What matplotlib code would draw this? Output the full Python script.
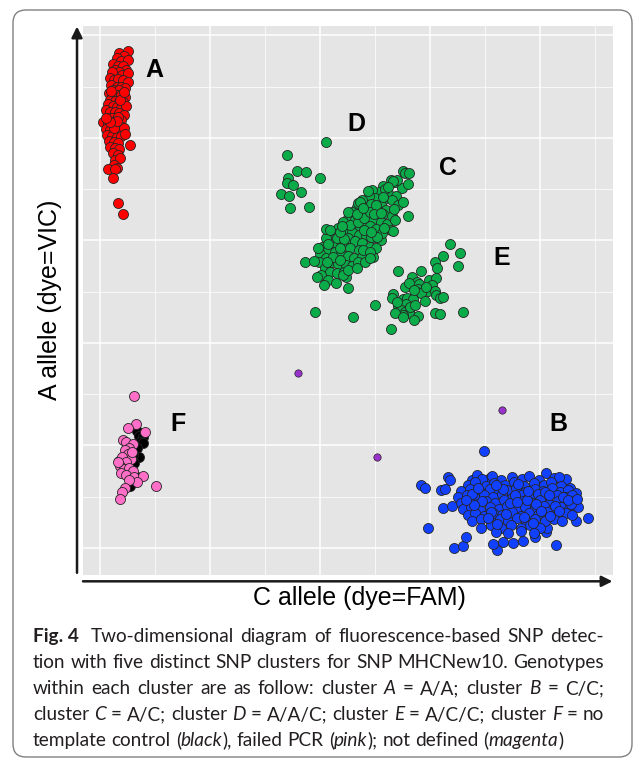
import numpy as np
import matplotlib
matplotlib.use("Agg")
import matplotlib.pyplot as plt
from matplotlib.patches import FancyBboxPatch
from matplotlib.ticker import MultipleLocator

# Fluorescence readings (arbitrary units): FAM on x, VIC on y

# cluster A = A/A
a_pts = np.array([
    (17, 483), (25, 485), (22, 480), (15, 478), (19, 475), (25, 476), (12, 472), (16, 470),
    (21, 470), (24, 466), (14, 466), (17, 464), (11, 464), (20, 461), (25, 463), (9, 458),
    (13, 456), (16, 457), (21, 456), (25, 454), (10, 451), (15, 450), (19, 450), (23, 449),
    (12, 447), (17, 447), (8, 444), (11, 441), (15, 442), (19, 442), (23, 440), (9, 437),
    (14, 436), (17, 435), (21, 435), (7, 433), (12, 431), (15, 430), (19, 429), (24, 431),
    (5, 427), (9, 425), (14, 425), (17, 424), (22, 422), (6, 419), (11, 419), (15, 418),
    (19, 417), (3, 415), (7, 413), (12, 413), (15, 411), (20, 411), (5, 409), (9, 408),
    (14, 407), (18, 406), (22, 410), (6, 403), (11, 402), (15, 401), (19, 402), (23, 404),
    (8, 397), (13, 396), (16, 395), (9, 391), (14, 390), (17, 389), (27, 393), (12, 385),
    (16, 383), (14, 378), (18, 380), (13, 373), (15, 371), (7, 370), (14, 370), (12, 361),
    (16, 336), (21, 326), (10, 446), (16, 420), (13, 410), (18, 437), (15, 416), (9, 415),
    (22, 445), (5, 419),
])

# cluster B = C/C
b_pts = np.array([
    (292, 61), (295, 59), (310, 57), (313, 58), (316, 69), (318, 66), (298, 20), (312, 39),
    (320, 41), (322, 0), (330, 2), (332, 11), (338, 66), (342, 71), (349, 95), (354, 68),
    (361, -2), (357, 4), (366, 6), (375, 5), (384, 7), (395, 11), (414, 3), (443, 29),
    (432, 26), (405, 73), (423, 67), (427, 59), (405, 16), (397, 19), (406, 20), (412, 68),
    (432, 54),
    (347, 67), (356, 70), (364, 66), (374, 69), (383, 67), (390, 70), (399, 66), (417, 69),
    (334, 61), (341, 64), (351, 60), (358, 63), (368, 61), (376, 64), (385, 60), (394, 63),
    (403, 61), (410, 64), (419, 60),
    (328, 56), (336, 58), (345, 55), (354, 58), (362, 55), (370, 57), (378, 59), (386, 55),
    (395, 58), (402, 56), (411, 59), (418, 55), (425, 57),
    (325, 50), (333, 52), (341, 49), (349, 52), (357, 50), (365, 53), (374, 49), (382, 52),
    (390, 50), (398, 53), (406, 49), (415, 52), (422, 50), (429, 52),
    (328, 44), (335, 47), (343, 43), (351, 46), (359, 44), (367, 47), (375, 43), (384, 46),
    (392, 44), (400, 47), (408, 43), (416, 46), (424, 44), (431, 46),
    (330, 38), (337, 40), (345, 37), (354, 40), (362, 38), (370, 41), (378, 37), (386, 40),
    (395, 38), (403, 41), (411, 37), (419, 40), (426, 38), (434, 40),
    (334, 32), (341, 34), (349, 31), (357, 34), (365, 32), (374, 35), (382, 31), (390, 34),
    (398, 32), (406, 35), (415, 31), (423, 34), (429, 32),
    (338, 26), (346, 28), (355, 25), (363, 28), (371, 26), (379, 29), (387, 25), (395, 28),
    (404, 26), (412, 28), (420, 26),
    (346, 20), (355, 22), (364, 20), (373, 22), (382, 20), (391, 22), (400, 20),
    (360, 16), (371, 15), (382, 17), (394, 15),
    (338, 53), (347, 46), (355, 35), (366, 58), (372, 44), (380, 62), (388, 47), (396, 43),
    (404, 55), (413, 41), (421, 50), (428, 43), (340, 42), (352, 29), (361, 23), (369, 33),
    (377, 52), (385, 30), (393, 24), (401, 36), (409, 31), (417, 36), (425, 47), (433, 48),
    (332, 47), (343, 59), (360, 61), (379, 45), (389, 56), (408, 52),
])

# cluster C = A/C
c_pts = np.array([
    (268, 357), (274, 351), (264, 359), (257, 353), (262, 346), (269, 343), (253, 347),
    (258, 340), (247, 349), (250, 341), (265, 339), (255, 334), (260, 330), (271, 334),
    (244, 343), (275, 368), (277, 366), (281, 366), (270, 359), (266, 358),
    (238, 339), (233, 333), (241, 332), (246, 335), (252, 330), (257, 326), (236, 326),
    (243, 324), (248, 321), (255, 318), (261, 316), (229, 328), (225, 322), (232, 320),
    (238, 316), (245, 314), (251, 311), (264, 310), (235, 310),
    (221, 318), (216, 312), (224, 311), (229, 308), (235, 305), (242, 304), (247, 302),
    (255, 300), (213, 306), (219, 304), (225, 302), (232, 299), (238, 297), (245, 294),
    (251, 293), (209, 300), (215, 296), (221, 295), (227, 293), (235, 291),
    (205, 302), (202, 294), (207, 291), (213, 289), (219, 287), (225, 285), (231, 283),
    (238, 284), (200, 287), (205, 283), (211, 279), (216, 277), (223, 276), (229, 275),
    (199, 279), (204, 273), (209, 269), (215, 268), (222, 269),
    (201, 266), (207, 261), (214, 258), (203, 256), (223, 264), (225, 254),
    (186, 279), (194, 280), (197, 264), (205, 311), (225, 328), (234, 336), (256, 307),
    (266, 309), (248, 284), (271, 270), (221, 266), (280, 324), (275, 337), (280, 355),
    (259, 350), (243, 348), (195, 230), (230, 225), (250, 237), (264, 214), (246, 303),
    (252, 303), (236, 337),
    (227, 315), (234, 318), (240, 322), (245, 328), (251, 334), (257, 342), (262, 352),
    (215, 302), (222, 301), (207, 296), (218, 293), (212, 284), (218, 281), (198, 293),
    (239, 291), (245, 289), (234, 279), (240, 310), (246, 308), (258, 312), (265, 324),
    (267, 331), (268, 320),
    (209, 310), (218, 308), (206, 279), (225, 271), (233, 273), (241, 279), (245, 283),
    (220, 314), (233, 326), (239, 332), (249, 326), (255, 327),
])

# cluster D = A/A/C
d_pts = np.array([
    (205, 396), (170, 383), (179, 368), (187, 367), (200, 361), (171, 361), (170, 356),
    (175, 354), (183, 347), (164, 345), (172, 343), (173, 332), (190, 333),
])

# cluster E = A/C/C
e_pts = np.array([
    (318, 296), (327, 288), (312, 285), (325, 275), (304, 279), (306, 273), (292, 270),
    (283, 264), (288, 259), (299, 261), (305, 263), (277, 255), (281, 258), (290, 257),
    (289, 253), (302, 256), (298, 251), (304, 251), (288, 250), (292, 249), (305, 247),
    (309, 244), (312, 245), (266, 248), (265, 244), (271, 236), (275, 243), (279, 244),
    (284, 243), (278, 238), (282, 234), (273, 232), (277, 230), (281, 229), (275, 227),
    (268, 229), (289, 226), (285, 222), (295, 241), (304, 229), (309, 228), (330, 230),
    (275, 225), (282, 235), (285, 252), (296, 255), (270, 240), (286, 237),
])

# cluster F: failed PCR (pink) and no template control (black)
f_pink = np.array([
    (31, 148), (33, 121), (25, 117), (41, 113), (21, 105), (24, 103), (30, 101), (26, 98),
    (23, 96), (25, 92), (20, 89), (28, 87), (24, 84), (18, 80), (22, 77), (26, 78),
    (30, 75), (19, 73), (24, 71), (31, 69), (39, 70), (34, 64), (26, 66), (23, 59),
    (20, 55), (18, 48), (51, 60), (29, 94), (16, 84),
])
f_ntc = np.array([
    (34, 114), (35, 109), (39, 108), (36, 103), (39, 102), (34, 98), (35, 89), (30, 91),
    (17, 85), (31, 83), (29, 74), (27, 60), (34, 69), (21, 79), (25, 86),
])

# not defined
undef_pts = np.array([(180, 171), (365, 135), (252, 89)])

lab_names = ["A", "B", "C", "D", "E", "F"]
lab_fam = [49, 416, 316, 233, 365, 71]
lab_vic = [469, 123, 373, 416, 285, 123]

caption = [
    "#Fig.~4#~ Two-dimensional diagram of fluorescence-based SNP detec-",
    "tion with five distinct SNP clusters for SNP MHCNew10. Genotypes",
    "within each cluster are as follow: cluster _A_ = A/A; cluster _B_ = C/C;",
    "cluster _C_ = A/C; cluster _D_ = A/A/C; cluster _E_ = A/C/C; cluster _F_ = no",
    "template control (_black_), failed PCR (_pink_); not defined (_magenta_)",
]

#-----------------------------------------------------------------------

W, H = 637, 761
fig = plt.figure(figsize=(W / 100, H / 100), dpi=100)

# figure frame
frame = FancyBboxPatch((0.13, 0.04), 6.19, 7.47,
                       boxstyle="round,pad=0,rounding_size=0.13",
                       transform=fig.dpi_scale_trans, fill=False,
                       ec="#808080", lw=1.0)
fig.add_artist(frame)

ax = fig.add_axes([83 / W, 1 - 575 / H, 530 / W, 549 / H])
ax.set_xlim(-15.5, 466)
ax.set_ylim(-26.3, 509)
ax.set_facecolor("#e5e5e5")
for s in ax.spines.values():
    s.set_visible(False)
ax.xaxis.set_major_locator(MultipleLocator(100))
ax.xaxis.set_minor_locator(MultipleLocator(50))
ax.yaxis.set_major_locator(MultipleLocator(100))
ax.yaxis.set_minor_locator(MultipleLocator(50))
ax.grid(which="major", color="white", lw=1.1)
ax.grid(which="minor", color="white", lw=0.5)
ax.tick_params(which="both", length=0, labelbottom=False, labelleft=False)
ax.set_axisbelow(True)

kw = dict(s=52, edgecolors="#252525", linewidths=0.6, zorder=3)
ax.scatter(a_pts[:, 0], a_pts[:, 1], c="#ff0000", **kw)
ax.scatter(d_pts[:, 0], d_pts[:, 1], c="#0aab48", **kw)
ax.scatter(c_pts[:, 0], c_pts[:, 1], c="#0aab48", **kw)
ax.scatter(e_pts[:, 0], e_pts[:, 1], c="#0aab48", **kw)
ax.scatter(b_pts[:, 0], b_pts[:, 1], c="#1240ff", **kw)
ax.scatter(f_ntc[:, 0], f_ntc[:, 1], c="#000000", **kw)
ax.scatter(f_pink[:, 0], f_pink[:, 1], c="#ff6ec7", **kw)
ax.scatter(undef_pts[:, 0], undef_pts[:, 1], c="#9932cc", s=28,
           edgecolors="#252525", linewidths=0.5, zorder=3)

for n, x, y in zip(lab_names, lab_fam, lab_vic):
    ax.text(x, y, n, fontsize=18, fontweight="bold", family="Liberation Sans",
            ha="center", va="center_baseline", zorder=4)

# axes as arrows
arw = dict(arrowstyle="-|>", lw=1.8, color="#1a1a1a", mutation_scale=16,
           shrinkA=0, shrinkB=0)
ax.annotate("", xy=(-0.0113, 0.999), xytext=(-0.0113, 0.004),
            xycoords="axes fraction", arrowprops=arw, annotation_clip=False)
ax.annotate("", xy=(0.999, -0.0115), xytext=(0.0, -0.0115),
            xycoords="axes fraction", arrowprops=arw, annotation_clip=False)

fig.text(50 / W, 1 - 300 / H, "A allele (dye=VIC)", rotation=90, ha="center",
         va="center", fontsize=18, family="Liberation Sans")
fig.text(359 / W, 1 - 598 / H, "C allele (dye=FAM)", ha="center",
         va="center", fontsize=18, family="Liberation Sans")

# caption, justified
renderer = fig.canvas.get_renderer()
cap_font = "Lato"
cap_col = "#231f20"


def text_w(s, size, weight="normal", style="normal"):
    t1 = fig.text(0, 0, "|" + s + "|", fontsize=size, family=cap_font,
                  weight=weight, style=style)
    t2 = fig.text(0, 0, "||", fontsize=size, family=cap_font,
                  weight=weight, style=style)
    w = t1.get_window_extent(renderer).width - t2.get_window_extent(renderer).width
    t1.remove()
    t2.remove()
    return w


def parse_word(word):
    segs, cur, bold, ital = [], "", False, False
    for ch in word:
        if ch in "#_":
            if cur:
                segs.append((cur.replace("~", " "), bold, ital))
            cur = ""
            if ch == "#":
                bold = not bold
            else:
                ital = not ital
        else:
            cur += ch
    if cur:
        segs.append((cur.replace("~", " "), bold, ital))
    return segs


def word_w(segs, size):
    return sum(text_w(t, size, "bold" if b else "normal", "italic" if i else "normal")
               for t, b, i in segs)


x0, x1 = 33, 604
base_size = 12
nat = text_w(caption[1], base_size)
cap_size = base_size * (x1 - x0) / nat * 0.995
baselines = [642, 668, 694, 720, 746]

for k, line in enumerate(caption):
    words = [parse_word(w) for w in line.split(" ") if w]
    widths = [word_w(w, cap_size) for w in words]
    if k < len(caption) - 1:
        gap = (x1 - x0 - sum(widths)) / (len(words) - 1)
    else:
        gap = text_w(" ", cap_size)
    x = x0
    for segs, ww in zip(words, widths):
        for t, b, i in segs:
            fig.text(x / W, 1 - baselines[k] / H, t, fontsize=cap_size,
                     family=cap_font, weight="bold" if b else "normal",
                     style="italic" if i else "normal", color=cap_col,
                     va="baseline", ha="left")
            x += text_w(t, cap_size, "bold" if b else "normal",
                        "italic" if i else "normal")
        x += gap

fig.savefig("out.png", dpi=100)
